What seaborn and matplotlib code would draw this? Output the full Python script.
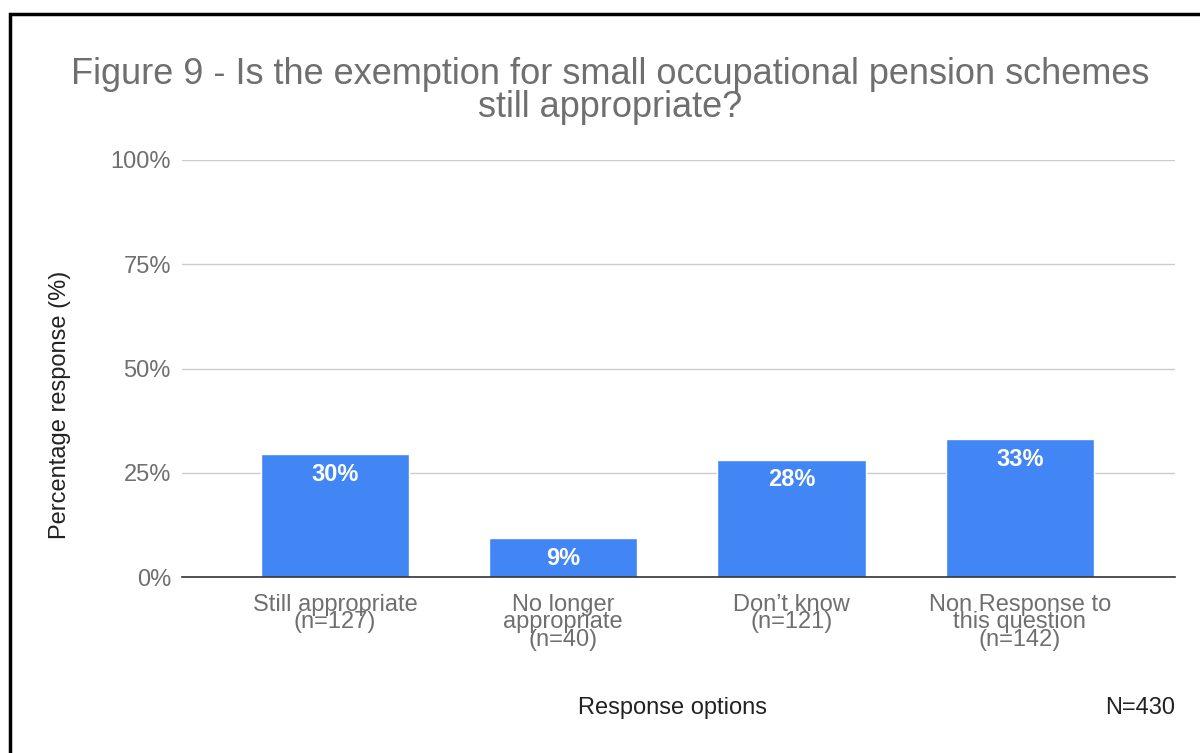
import matplotlib
matplotlib.use("Agg")
import matplotlib.pyplot as plt
import seaborn as sns
import pandas as pd
from matplotlib.patches import Rectangle

categories = ["Still appropriate\n(n=127)", "No longer\nappropriate\n(n=40)",
              "Don\u2019t know\n(n=121)", "Non Response to\nthis question\n(n=142)"]
percent = [29.5, 9.3, 28.1, 33.0]
bar_labels = ["30%", "9%", "28%", "33%"]
y_ticks = [0, 25, 50, 75, 100]
y_tick_labels = ["0%", "25%", "50%", "75%", "100%"]

sns.set_theme(style="white")
plt.rcParams["font.family"] = ["Liberation Sans", "DejaVu Sans"]

grey = "#6f6f6f"
blue = "#4285f4"

df = pd.DataFrame({"cat": categories, "pct": percent})

fig = plt.figure(figsize=(12, 7.53), dpi=100)
ax = fig.add_axes([182 / 1200, 1 - 577 / 753, (1175 - 182) / 1200, 417 / 753])

sns.barplot(data=df, x="cat", y="pct", color=blue, saturation=1, width=0.65, ax=ax)

ax.set_ylim(0, 100)
ax.set_xlim(-0.67, 3.68)
ax.set_yticks(y_ticks)
ax.set_yticklabels(y_tick_labels)
ax.yaxis.grid(True, color="#cccccc", linewidth=1)
ax.set_axisbelow(True)
for s in ["top", "right", "left"]:
    ax.spines[s].set_visible(False)
ax.spines["bottom"].set_color("#333333")
ax.spines["bottom"].set_linewidth(1.2)
ax.tick_params(axis="y", length=0, labelsize=17, colors=grey, pad=8)
ax.tick_params(axis="x", length=0, labelsize=17, colors=grey, pad=12)
for t in ax.get_xticklabels():
    t.set_linespacing(0.74)
ax.set_xlabel("")
ax.set_ylabel("")

for patch, lab in zip(ax.patches, bar_labels):
    x = patch.get_x() + patch.get_width() / 2
    ax.text(x, patch.get_height() - 4.8, lab, ha="center", va="center",
            color="white", fontsize=17, fontweight="bold")

fig.text(610 / 1200, 1 - 91 / 753,
         "Figure 9 - Is the exemption for small occupational pension schemes\nstill appropriate?",
         ha="center", va="center", fontsize=26, color=grey, linespacing=0.92)
fig.text(60 / 1200, 1 - 405 / 753, "Percentage response (%)", rotation=90,
         ha="center", va="center", fontsize=17, color="#222222")
fig.text(673 / 1200, 1 - 708 / 753, "Response options",
         ha="center", va="center", fontsize=17, color="#222222")
fig.text(1175 / 1200, 1 - 708 / 753, "N=430",
         ha="right", va="center", fontsize=17, color="#222222")

fig.patches.append(Rectangle((10 / 1200, -0.05), 1.1, 1 - 14 / 753 + 0.05,
                             transform=fig.transFigure, fill=False,
                             edgecolor="black", linewidth=2.5))

fig.savefig("out.png", dpi=100)
